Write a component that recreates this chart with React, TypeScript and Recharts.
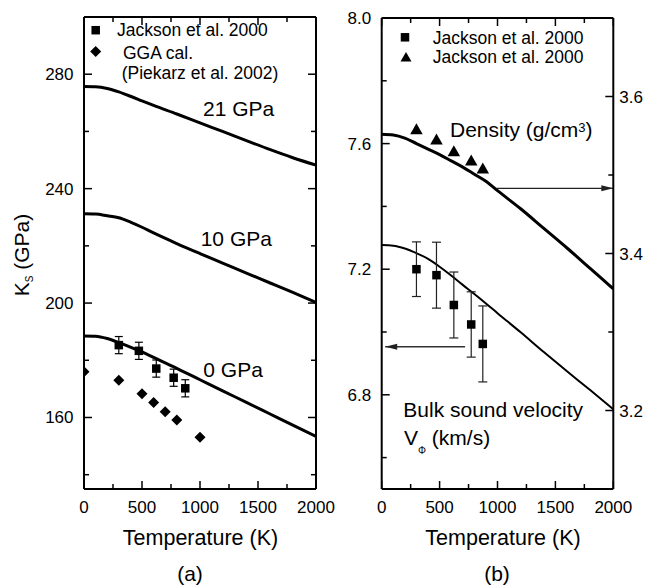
import React from 'react';
import { ComposedChart, Line, Scatter, XAxis, YAxis, ErrorBar } from 'recharts';

const FONT = '"Liberation Sans", Arial, Helvetica, sans-serif';

// ---------------- Panel (a) data ----------------
const curveTempsA = [0, 100, 200, 300, 400, 500, 600, 800, 1000, 1200, 1400, 1600, 1800, 2000];
const ks21GPa = [275.7, 275.6, 275.0, 273.8, 272.3, 270.7, 269.1, 266.1, 263.0, 259.9, 256.8, 253.7, 250.8, 248.2];
const ks10GPa = [231.2, 231.1, 230.5, 229.8, 228.3, 226.5, 224.5, 220.8, 217.3, 213.9, 210.5, 207.1, 203.7, 200.2];
const ks0GPa = [188.5, 188.4, 187.6, 186.2, 184.6, 182.9, 181.0, 177.2, 173.2, 169.2, 165.3, 161.3, 157.3, 153.4];

const jacksonTempsA = [300, 473, 623, 773, 873];
const jacksonKs = [185.3, 183.3, 177.1, 173.9, 170.2];
const jacksonKsErr = [3, 3, 3, 3, 3];

const ggaTemps = [0, 300, 500, 600, 700, 800, 1000];
const ggaKs = [176.0, 173.0, 168.3, 165.2, 162.0, 159.1, 153.1];

// ---------------- Panel (b) data ----------------
const curveTempsB = [0, 100, 200, 300, 400, 500, 600, 700, 800, 900, 1000, 1200, 1400, 1600, 1800, 2000];
const densityCurve = [3.552, 3.551, 3.547, 3.540, 3.533, 3.526, 3.518, 3.510, 3.501, 3.492, 3.480, 3.457, 3.432, 3.407, 3.381, 3.355];
const velocityCurve = [7.277, 7.275, 7.266, 7.251, 7.233, 7.208, 7.180, 7.150, 7.121, 7.091, 7.060, 6.999, 6.936, 6.875, 6.815, 6.754];

const jacksonTempsB = [300, 473, 623, 773, 873];
const jacksonDensity = [3.559, 3.546, 3.531, 3.519, 3.509];
const jacksonVelocity = [7.2, 7.181, 7.086, 7.024, 6.962];
const jacksonVelocityErr = [0.087, 0.105, 0.105, 0.104, 0.121];

const densityArrowTemps = [990, 2000];
const densityArrowValue = 3.483;
const velocityArrowTemps = [720, 30];
const velocityArrowValue = 6.953;

// ---------------- Ticks ----------------
const tempTicks = [0, 250, 500, 750, 1000, 1250, 1500, 1750, 2000];
const tempMajor = [0, 500, 1000, 1500, 2000];
const ksTicks = [140, 160, 180, 200, 220, 240, 260, 280, 300];
const ksMajor = [160, 200, 240, 280];
const velTicks = [6.6, 6.8, 7.0, 7.2, 7.4, 7.6, 7.8, 8.0];
const velMajor = [6.8, 7.2, 7.6, 8.0];
const denTicks = [3.2, 3.3, 3.4, 3.5, 3.6];
const denMajor = [3.2, 3.4, 3.6];

const toPts = (xs: number[], ys: number[], errs?: number[]) =>
  xs.map((T, i) => (errs ? { T, y: ys[i], err: errs[i] } : { T, y: ys[i] }));

const arrowPts = (xs: number[], v: number) => xs.map((T) => ({ T, y: v }));

type Orient = 'left' | 'right' | 'top' | 'bottom';

const tickFactory =
  (orient: Orient, majors: number[], showLabel: boolean, fmt: (v: number) => string) =>
  (props: any) => {
    const { x, y, payload } = props;
    const v = Number(payload.value);
    const isMajor = majors.some((m) => Math.abs(m - v) < 1e-6);
    const len = isMajor ? 8 : 5;
    let x2 = x;
    let y2 = y;
    let tx = x;
    let ty = y;
    let anchor: 'start' | 'middle' | 'end' = 'middle';
    if (orient === 'left') {
      x2 = x + len;
      tx = x - 10.5;
      ty = y + 6;
      anchor = 'end';
    } else if (orient === 'right') {
      x2 = x - len;
      tx = x + 6;
      ty = y + 6;
      anchor = 'start';
    } else if (orient === 'bottom') {
      y2 = y - len;
      ty = y + 24;
    } else {
      y2 = y + len;
    }
    return (
      <g>
        <line x1={x} y1={y} x2={x2} y2={y2} stroke="#000" strokeWidth={1.5} />
        {showLabel && isMajor ? (
          <text x={tx} y={ty} textAnchor={anchor} fontSize={17} fontFamily={FONT} fill="#000">
            {fmt(v)}
          </text>
        ) : null}
      </g>
    );
  };

const fmtInt = (v: number) => String(Math.round(v));
const fmt1 = (v: number) => v.toFixed(1);

const squareShape = (size: number) => (props: any) =>
  <rect x={props.cx - size / 2} y={props.cy - size / 2} width={size} height={size} fill="#000" />;

const diamondShape = (r: number) => (props: any) =>
  <polygon
    points={`${props.cx},${props.cy - r} ${props.cx + r},${props.cy} ${props.cx},${props.cy + r} ${props.cx - r},${props.cy}`}
    fill="#000"
  />;

const triangleShape = (w: number, h: number) => (props: any) =>
  <polygon
    points={`${props.cx},${props.cy - h / 2} ${props.cx + w / 2},${props.cy + h / 2} ${props.cx - w / 2},${props.cy + h / 2}`}
    fill="#000"
  />;

const arrowDot = (dir: 'left' | 'right', tipIndex: number) => (props: any) => {
  const { cx, cy, index } = props;
  if (index !== tipIndex || cx == null || cy == null) return <g key={`ad${index}`} />;
  const L = 12;
  const W = 3;
  const pts =
    dir === 'right'
      ? `${cx},${cy} ${cx - L},${cy - W} ${cx - L},${cy + W}`
      : `${cx},${cy} ${cx + L},${cy - W} ${cx + L},${cy + W}`;
  return <polygon key={`ad${index}`} points={pts} fill="#222" />;
};

const axisLineStyle = { stroke: '#000', strokeWidth: 2 };

const commonX = (id: string, orient: 'top' | 'bottom', label: boolean) => (
  <XAxis
    xAxisId={id}
    orientation={orient}
    type="number"
    dataKey="T"
    domain={[0, 2000]}
    ticks={tempTicks}
    interval={0}
    height={1}
    tickSize={0}
    tickMargin={0}
    tickLine={false}
    axisLine={axisLineStyle}
    allowDataOverflow
    tick={tickFactory(orient, tempMajor, label, fmtInt)}
  />
);

const commonY = (
  id: string,
  orient: 'left' | 'right',
  domain: [number, number],
  ticks: number[],
  majors: number[],
  label: boolean,
  fmt: (v: number) => string
) => (
  <YAxis
    yAxisId={id}
    orientation={orient}
    type="number"
    dataKey="y"
    domain={domain}
    ticks={ticks}
    interval={0}
    width={1}
    tickSize={0}
    tickMargin={0}
    tickLine={false}
    axisLine={axisLineStyle}
    allowDataOverflow
    tick={tickFactory(orient, majors, label, fmt)}
  />
);

const PanelA = () => (
  <ComposedChart width={350} height={587} margin={{ top: 16, left: 83, right: 33, bottom: 97 }}>
    {commonX('b', 'bottom', true)}
    {commonX('t', 'top', false)}
    {commonY('l', 'left', [135, 300], ksTicks, ksMajor, true, fmtInt)}
    {commonY('r', 'right', [135, 300], ksTicks, ksMajor, false, fmtInt)}
    <Line xAxisId="b" yAxisId="l" data={toPts(curveTempsA, ks21GPa)} dataKey="y" type="monotone"
      stroke="#000" strokeWidth={3} dot={false} isAnimationActive={false} />
    <Line xAxisId="b" yAxisId="l" data={toPts(curveTempsA, ks10GPa)} dataKey="y" type="monotone"
      stroke="#000" strokeWidth={3} dot={false} isAnimationActive={false} />
    <Line xAxisId="b" yAxisId="l" data={toPts(curveTempsA, ks0GPa)} dataKey="y" type="monotone"
      stroke="#000" strokeWidth={3} dot={false} isAnimationActive={false} />
    <Scatter xAxisId="b" yAxisId="l" data={toPts(ggaTemps, ggaKs)} dataKey="y"
      shape={diamondShape(5.5)} isAnimationActive={false} />
    <Scatter xAxisId="b" yAxisId="l" data={toPts(jacksonTempsA, jacksonKs, jacksonKsErr)} dataKey="y"
      shape={squareShape(8.5)} isAnimationActive={false}>
      <ErrorBar dataKey="err" direction="y" width={4} stroke="#000" strokeWidth={1.2} />
    </Scatter>
  </ComposedChart>
);

const PanelB = () => (
  <ComposedChart width={320} height={587} margin={{ top: 17, left: 50.7, right: 35.7, bottom: 97 }}>
    {commonX('b', 'bottom', true)}
    {commonX('t', 'top', false)}
    {commonY('l', 'left', [6.5, 8.0], velTicks, velMajor, true, fmt1)}
    {commonY('r', 'right', [3.1, 3.7], denTicks, denMajor, true, fmt1)}
    <Line xAxisId="b" yAxisId="r" data={toPts(curveTempsB, densityCurve)} dataKey="y" type="monotone"
      stroke="#000" strokeWidth={3} dot={false} isAnimationActive={false} />
    <Line xAxisId="b" yAxisId="l" data={toPts(curveTempsB, velocityCurve)} dataKey="y" type="monotone"
      stroke="#000" strokeWidth={2} dot={false} isAnimationActive={false} />
    <Line xAxisId="b" yAxisId="r" data={arrowPts(densityArrowTemps, densityArrowValue)} dataKey="y"
      type="linear" stroke="#222" strokeWidth={1.3} dot={arrowDot('right', 1)} isAnimationActive={false} />
    <Line xAxisId="b" yAxisId="l" data={arrowPts(velocityArrowTemps, velocityArrowValue)} dataKey="y"
      type="linear" stroke="#333" strokeWidth={1.3} dot={arrowDot('left', 1)} isAnimationActive={false} />
    <Scatter xAxisId="b" yAxisId="r" data={toPts(jacksonTempsB, jacksonDensity)} dataKey="y"
      shape={triangleShape(12.5, 11)} isAnimationActive={false} />
    <Scatter xAxisId="b" yAxisId="l" data={toPts(jacksonTempsB, jacksonVelocity, jacksonVelocityErr)} dataKey="y"
      shape={squareShape(8.5)} isAnimationActive={false}>
      <ErrorBar dataKey="err" direction="y" width={4.5} stroke="#222" strokeWidth={1.2} />
    </Scatter>
  </ComposedChart>
);

const textStyle = { fontFamily: FONT, fill: '#000' } as const;

const Overlay = () => (
  <svg width={650} height={587} style={{ position: 'absolute', left: 0, top: 0, pointerEvents: 'none' }}>
    {/* Panel (a) legend */}
    <rect x={95.7 - 4.25} y={30.2 - 4.25} width={8.5} height={8.5} fill="#000" />
    <text x={117} y={35.5} fontSize={17.5} {...textStyle}>Jackson et al. 2000</text>
    <polygon points="95.7,46 101.2,51.5 95.7,57 90.2,51.5" fill="#000" />
    <text x={123} y={58.8} fontSize={17.5} {...textStyle}>GGA cal.</text>
    <text x={121.7} y={79} fontSize={17.5} {...textStyle}>(Piekarz et al. 2002)</text>

    {/* Panel (a) curve labels */}
    <text x={203} y={115.8} fontSize={21} {...textStyle}>21 GPa</text>
    <text x={200.7} y={245.8} fontSize={21} {...textStyle}>10 GPa</text>
    <text x={203.3} y={377} fontSize={21} {...textStyle}>0 GPa</text>

    {/* Panel (a) axis titles */}
    <text transform="translate(28.5,255) rotate(-90)" textAnchor="middle" fontSize={21} {...textStyle}>
      K<tspan fontSize={10} dy={4}>S</tspan><tspan dy={-4}> (GPa)</tspan>
    </text>
    <text x={200.5} y={545} textAnchor="middle" fontSize={21.5} {...textStyle}>Temperature (K)</text>
    <text x={190} y={581} textAnchor="middle" fontSize={21} {...textStyle}>(a)</text>

    {/* Panel (b) legend */}
    <rect x={405 - 4.25} y={37.3 - 4.25} width={8.5} height={8.5} fill="#000" />
    <text x={432.7} y={43.6} fontSize={17.5} {...textStyle}>Jackson et al. 2000</text>
    <polygon points="406,52 411.5,61.5 400.5,61.5" fill="#000" />
    <text x={432.7} y={62.8} fontSize={17.5} {...textStyle}>Jackson et al. 2000</text>

    {/* Panel (b) annotations */}
    <text x={450} y={137.3} fontSize={21} {...textStyle}>
      Density (g/cm<tspan fontSize={13} dy={-5.6}>3</tspan><tspan dy={5.6}>)</tspan>
    </text>
    <text x={403.3} y={417.3} fontSize={21} {...textStyle}>Bulk sound velocity</text>
    <text x={404} y={445} fontSize={21} {...textStyle}>
      V<tspan fontSize={10} dy={8.5}>Φ</tspan><tspan dy={-8.5}> (km/s)</tspan>
    </text>

    {/* Panel (b) axis titles */}
    <text x={503} y={545} textAnchor="middle" fontSize={21.5} {...textStyle}>Temperature (K)</text>
    <text x={497} y={581} textAnchor="middle" fontSize={21} {...textStyle}>(b)</text>
  </svg>
);

export default function App() {
  return (
    <div style={{ position: 'absolute', left: 0, top: 0, width: 650, height: 587, background: '#fff', overflow: 'hidden' }}>
      <div style={{ position: 'absolute', left: 0, top: 0 }}>
        <PanelA />
      </div>
      <div style={{ position: 'absolute', left: 330, top: 0 }}>
        <PanelB />
      </div>
      <Overlay />
    </div>
  );
}
